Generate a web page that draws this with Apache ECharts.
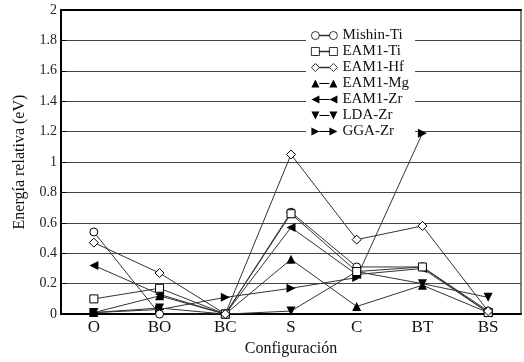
<!DOCTYPE html>
<html><head><meta charset="utf-8">
<script src="https://cdn.jsdelivr.net/npm/echarts@6/dist/echarts.min.js"></script>
<style>html,body{margin:0;padding:0;background:#fff}#c{width:524px;height:362px}</style>
</head><body><div id="c"></div>
<script>
const categories = ['O','BO','BC','S','C','BT','BS'];
const seriesNames = ['Mishin-Ti','EAM1-Ti','EAM1-Hf','EAM1-Mg','EAM1-Zr','LDA-Zr','GGA-Zr'];
const mishinTi = [0.54, 0.00, 0.00, 0.67, 0.31, 0.31, 0.02];
const eam1Ti   = [0.10, 0.17, 0.00, 0.66, 0.28, 0.31, 0.01];
const eam1Hf   = [0.47, 0.27, 0.00, 1.05, 0.49, 0.58, 0.02];
const eam1Mg   = [0.01, 0.12, 0.00, 0.36, 0.05, 0.19, 0.01];
const eam1Zr   = [0.32, 0.13, 0.00, 0.57, 0.26, 0.30, 0.01];
const ldaZr    = [0.01, 0.04, 0.00, 0.02, 0.28, 0.20, 0.11];
const ggaZr    = [0.01, 0.03, 0.11, 0.17, 0.24, 1.19, null];
const yTicks = [0, 0.2, 0.4, 0.6, 0.8, 1, 1.2, 1.4, 1.6, 1.8, 2];

const allData = [mishinTi, eam1Ti, eam1Hf, eam1Mg, eam1Zr, ldaZr, ggaZr];
const symbols = ['circle','rect','diamond','triangle','triangle','triangle','triangle'];
const rotations = [0,0,0,0,90,180,-90];
const hollow = [true,true,true,false,false,false,false];
const symSizes = [8,8,9,9,9,9,9];

// legend icons: marker - line - marker
const P = {
  circle: 'M0,5a4,4 0 1,0 8,0a4,4 0 1,0 -8,0M8,4.75h10v0.5h-10zM18,5a4,4 0 1,0 8,0a4,4 0 1,0 -8,0',
  rect: 'M0,1h8v8h-8zM8,4.75h10v0.5h-10zM18,1h8v8h-8z',
  diamond: 'M0,5l4,-4l4,4l-4,4zM8,4.75h10v0.5h-10zM18,5l4,-4l4,4l-4,4z',
  up: 'M0,9l4,-8l4,8zM8,4.5h10v1h-10zM18,9l4,-8l4,8z',
  left: 'M0,5l8,-4v8zM8,4.5h10v1h-10zM18,5l8,-4v8z',
  down: 'M0,1h8l-4,8zM8,4.5h10v1h-10zM18,1h8l-4,8z',
  right: 'M0,1l8,4l-8,4zM8,4.5h10v1h-10zM18,1l8,4l-8,4z'
};
const iconKeys = ['circle','rect','diamond','up','left','down','right'];

const font = 'Liberation Serif';
const series = seriesNames.map((n,i)=>({
  name: n, type: 'line', data: allData[i],
  symbol: symbols[i], symbolRotate: rotations[i], symbolSize: symSizes[i],
  showSymbol: true, connectNulls: false, animation: false, z: 3 + (hollow[i]?1:0),
  lineStyle: {color: '#333', width: 1},
  itemStyle: hollow[i] ? {color:'#fff', borderColor:'#000', borderWidth:1} : {color:'#000', borderColor:'#000', borderWidth:0}
}));

const chart = echarts.init(document.getElementById('c'));
chart.setOption({
  animation: false,
  backgroundColor: '#fff',
  grid: {left: 61, right: 3, top: 10, bottom: 37, show: true, borderColor: '#000', borderWidth: 1},
  legend: {
    orient: 'vertical', left: 306, top: 25, padding: [3,6,3,5],
    backgroundColor: '#fff', itemWidth: 26, itemHeight: 10, itemGap: 1,
    textStyle: {fontFamily: font, fontSize: 15, color: '#111'},
    data: seriesNames.map((n,i)=>({
      name: n, icon: 'path://' + P[iconKeys[i]],
      itemStyle: hollow[i] ? {color:'#fff', borderColor:'#000', borderWidth:0.8} : {color:'#000', borderWidth:0}
    }))
  },
  xAxis: [{
    type: 'category', data: categories, boundaryGap: true, position: 'bottom',
    name: 'Configuración', nameLocation: 'middle', nameGap: 25,
    nameTextStyle: {fontFamily: font, fontSize: 16, color: '#111'},
    axisLine: {lineStyle: {color: '#000', width: 2}},
    axisTick: {inside: true, alignWithLabel: true, length: 6, lineStyle: {color:'#000'}},
    axisLabel: {fontFamily: font, fontSize: 17, color: '#111', margin: 5},
    splitLine: {show: false}
  },{
    type: 'category', data: categories, boundaryGap: true, position: 'top',
    axisLine: {lineStyle: {color: '#000', width: 2}},
    axisTick: {inside: true, alignWithLabel: true, length: 8, lineStyle: {color:'#000'}},
    axisLabel: {show: false}
  }],
  yAxis: {
    type: 'value', min: 0, max: 2, interval: 0.2,
    name: 'Energía relativa (eV)', nameLocation: 'middle', nameGap: 33,
    nameTextStyle: {fontFamily: font, fontSize: 16, color: '#111'},
    axisLine: {show: true, lineStyle: {color: '#000', width: 2}},
    axisTick: {show: true, inside: true, length: 5, lineStyle: {color:'#000'}},
    axisLabel: {fontFamily: font, fontSize: 14, color: '#222', margin: 4,
      formatter: v => { const t = yTicks.find(x => Math.abs(x - v) < 1e-6); return t === undefined ? '' : String(t); }},
    splitLine: {show: true, lineStyle: {color: '#444', width: 1}}
  },
  series: series
});
</script></body></html>
